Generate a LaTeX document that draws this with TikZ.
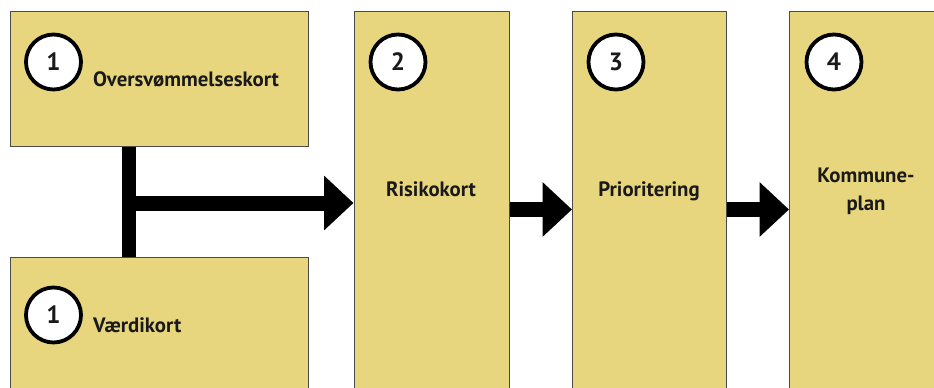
\documentclass[tikz,border=0pt]{standalone}
\usepackage{fontspec}
\setmainfont{PT Sans}
\usetikzlibrary{arrows.meta}
\definecolor{boxfill}{HTML}{E8D67F}
\definecolor{boxline}{HTML}{4A4A4A}
\definecolor{txt}{HTML}{1A1A1A}
\begin{document}
\begin{tikzpicture}[x=1pt,y=-1pt,
  box/.style={draw=boxline, line width=1pt, fill=boxfill, inner sep=0pt, anchor=north west},
  numc/.style={circle, draw=black, line width=3.8pt, fill=white, minimum size=55pt, inner sep=0pt,
    font=\fontsize{25}{25}\selectfont\bfseries, text=txt},
  lbl/.style={font=\fontsize{20.8}{28}\selectfont\bfseries, text=txt, inner sep=0pt},
  bar/.style={line width=14pt, black},
  arr/.style={line width=15pt, black, -{Triangle[length=29.5pt,width=53pt]}}]
\useasboundingbox (0,0) rectangle (934,388);
% boxes
\node[box, minimum width=298pt, minimum height=135pt] (b1) at (10,11) {};
\node[box, minimum width=298pt, minimum height=140pt] (b1b) at (10,257) {};
\node[box, minimum width=155.5pt, minimum height=390pt] (b2) at (353.5,11) {};
\node[box, minimum width=154pt, minimum height=390pt] (b3) at (572,11) {};
\node[box, minimum width=154pt, minimum height=390pt] (b4) at (789,11) {};
% number circles
\node[numc] (n1) at (53.5,62) {1};
\node[numc] (n1b) at (53.5,315) {1};
\node[numc] (n2) at (398,62) {2};
\node[numc] (n3) at (616,62) {3};
\node[numc] (n4) at (834,62) {4};
% labels
\node[lbl, anchor=base west] (t1) at (93,86) {Oversvømmelseskort};
\node[lbl, anchor=base west] (t1b) at (93,332) {Værdikort};
\node[lbl, anchor=base] (t2) at (431,196) {Risikokort};
\node[lbl, anchor=base] (t3) at (649,196) {Prioritering};
\node[lbl, anchor=base, align=center] (t4) at (866,210) {Kommune-\\plan};
% connectors
\coordinate (j) at (129.3,203);
\draw[bar] (b1.south -| j) -- (b1b.north -| j);
\draw[arr] (j) -- (j -| b2.west);
\draw[arr] ([yshift=-3pt]b2.east) -- ([yshift=-3pt]b3.west);
\draw[arr] ([yshift=-3pt]b3.east) -- ([yshift=-3pt]b4.west);
\end{tikzpicture}
\end{document}
